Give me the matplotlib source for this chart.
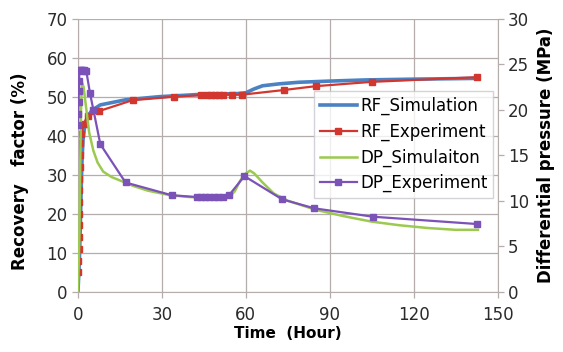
import matplotlib
matplotlib.use("Agg")
import matplotlib.pyplot as plt

# recovery factor (%)
rf_sim_t = [0, 0.5, 0.8, 1.1, 1.4, 1.8, 2.5, 3.5, 5, 8, 17, 29, 44, 57, 60, 63, 66, 72, 79, 90, 103, 120, 143]
rf_sim = [0, 8, 16, 25, 33, 39, 43, 45, 46.5, 47.9, 49.2, 50.0, 50.6, 50.8, 51.0, 52.0, 52.8, 53.3, 53.7, 54.0, 54.3, 54.5, 54.7]

rf_exp_t = [0.1, 0.15, 0.2, 0.25, 0.3, 0.35, 0.4, 0.45, 0.5, 0.55, 0.6, 0.8, 1.2, 2.0, 3.5, 7.5, 19.5,
            34.5, 44, 46, 47.5, 49, 50.5, 52, 55, 58.5, 73.5, 85, 105, 142.5]
rf_exp = [5, 8, 11, 14, 17, 20, 23, 26, 29, 32, 35, 38, 40.5, 43, 45, 46.3, 49.1,
          50.0, 50.4, 50.5, 50.5, 50.5, 50.5, 50.5, 50.5, 50.5, 51.7, 52.7, 53.8, 55.0]

# differential pressure (MPa)
dp_sim_t = [0, 0.5, 0.8, 1.1, 1.4, 2.0, 3.0, 4.0, 5.5, 7, 9, 12, 16, 20, 25, 33, 40, 48, 54, 56, 58,
            60, 61.5, 63, 66, 70, 75, 85, 95, 105, 115, 125, 135, 143]
dp_sim = [0, 6, 14, 20, 23, 22.5, 20, 17.5, 15.5, 14.2, 13.2, 12.6, 12.1, 11.6, 11.1, 10.6, 10.4, 10.3, 10.4, 11.0, 12.2,
          13.0, 13.3, 13.0, 12.0, 10.8, 10.0, 9.0, 8.3, 7.7, 7.3, 7.0, 6.8, 6.8]

dp_exp_t = [0, 0.1, 0.2, 0.3, 0.4, 0.5, 0.8, 1.2, 1.6, 2.0, 2.5, 3.0, 4.3, 5.5, 8, 17, 33.5,
            42.5, 44, 45.5, 47, 48.5, 50, 52, 54, 59.5, 73, 84.5, 105.5, 142.5]
dp_exp = [18.3, 19.5, 20.8, 22, 23.2, 24.2, 24.4, 24.4, 24.4, 24.4, 24.3, 24.2, 21.8, 20.0, 16.2, 12.0, 10.6,
          10.4, 10.4, 10.4, 10.4, 10.4, 10.4, 10.4, 10.6, 12.7, 10.15, 9.16, 8.24, 7.44]

blue = '#4a82c4'
red = '#d2372f'
green = '#9cc94f'
purple = '#7b52b8'
grid_c = '#b5adab'

fig = plt.figure(figsize=(5.63, 3.52), dpi=100)
ax1 = fig.add_axes([0.1385, 0.1713, 0.7452, 0.7756])
ax2 = ax1.twinx()

l1, = ax1.plot(rf_sim_t, rf_sim, color=blue, lw=2.6, label='RF_Simulation')
l2, = ax1.plot(rf_exp_t, rf_exp, color=red, lw=1.6, marker='s', ms=5, label='RF_Experiment')
l3, = ax2.plot(dp_sim_t, dp_sim, color=green, lw=1.8, label='DP_Simulaiton')
l4, = ax2.plot(dp_exp_t, dp_exp, color=purple, lw=1.6, marker='s', ms=5, label='DP_Experiment')

ax1.set_xlim(0, 150)
ax1.set_ylim(0, 70)
ax2.set_ylim(0, 30)
ax1.set_xticks(range(0, 151, 30))
ax1.set_yticks(range(0, 71, 10))
ax2.set_yticks(range(0, 31, 5))
ax1.grid(True, color=grid_c, lw=0.9)
ax1.set_axisbelow(True)

for ax in (ax1, ax2):
    for s in ax.spines.values():
        s.set_visible(False)
    ax.tick_params(labelsize=12, colors=grid_c, labelcolor='#2a2a2a', length=4, width=0.9)
ax2.spines['right'].set_visible(True)
ax2.spines['right'].set_color(grid_c)
ax1.spines['left'].set_visible(True)
ax1.spines['left'].set_color(grid_c)
ax1.spines['bottom'].set_visible(True)
ax1.spines['bottom'].set_color(grid_c)
ax1.tick_params(axis='x', pad=6)

ax1.set_xlabel('Time  (Hour)', fontsize=11, fontweight='bold', labelpad=2)
ax1.set_ylabel('Recovery   factor (%)', fontsize=12, fontweight='bold')
ax1.yaxis.set_label_coords(-0.117, 0.44)
ax2.set_ylabel('Differential pressure (MPa)', fontsize=12, fontweight='bold', labelpad=6)

leg = ax2.legend(handles=[l1, l2, l3, l4], loc='upper right', bbox_to_anchor=(0.99, 0.735),
                 fontsize=12, frameon=True, fancybox=False, handlelength=2.2,
                 handletextpad=0.2, borderpad=0.35, labelspacing=0.45, borderaxespad=0)
leg.get_frame().set_edgecolor('#c8c8d0')
leg.get_frame().set_linewidth(1.0)

fig.savefig('out.png', dpi=100)
